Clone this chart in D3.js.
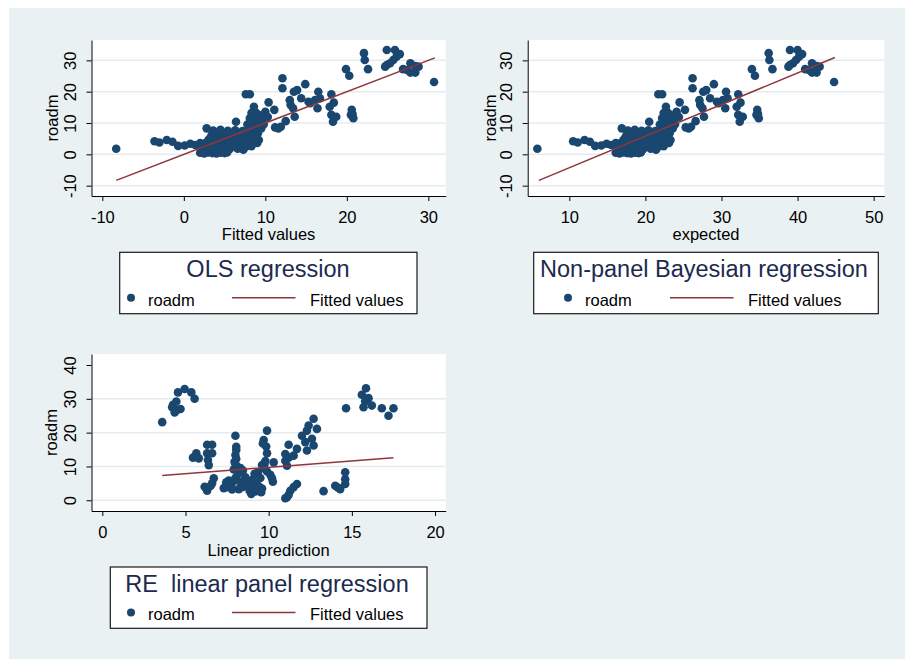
<!DOCTYPE html>
<html>
<head>
<meta charset="utf-8">
<script src="https://cdnjs.cloudflare.com/ajax/libs/d3/7.8.5/d3.min.js"></script>
<style>
body { margin: 0; background: #fff; }
text { font-family: "Liberation Sans", Arial, sans-serif; }
</style>
</head>
<body>
<div id="chart"></div>
<script>
// OLS: fitted values vs roadm (same observations used in the Bayesian panel)
var olsFitted = [-8.3, -3.6, -3.0, -2.1, -1.4, -0.7, 0.1, 0.8, 1.4, 2.0,
    2.0, 2.5, 3.0, 3.5, 4.0, 4.5, 5.0, 5.3,
    2.3, 3.1, 3.9, 4.7, 5.6, 6.6, 7.3,
    2.1, 2.8, 3.6, 4.4, 5.2, 6.0, 6.8, 7.6, 8.3,
    2.6, 3.4, 4.2, 5.0, 5.8, 6.6, 7.4, 8.2, 9.0,
    3.0, 3.8, 4.6, 5.4, 6.2, 7.0, 7.8, 8.6, 9.2,
    3.3, 4.1, 4.9, 5.7, 6.5, 7.3, 8.1, 8.9,
    3.5, 4.3, 5.1, 5.9, 6.7, 7.5, 8.3, 9.1,
    3.6, 4.5, 5.4, 6.3, 7.2, 8.0, 8.8,
    2.8, 9.5, 7.8, 8.6, 9.4, 6.4, 8.2, 9.1, 8.1, 8.8, 9.6, 8.4, 9.3, 8.3, 8.9,
    10.0, 8.6, 7.6, 8.1, 9.8, 10.3,
    10.4, 11.1, 11.2, 11.6, 11.9, 12.5, 12.1, 12.1, 13.0, 13.1, 13.5, 13.9, 13.6, 13.4,
    14.4, 14.9, 15.3, 15.5, 16.1, 16.5, 16.4, 16.7, 18.1, 18.4, 17.9, 18.1, 18.7, 18.3,
    20.6, 20.5, 20.8, 20.7, 19.9, 20.3, 22.1, 22.2, 22.6, 24.9, 25.9, 26.5, 26.1, 25.7,
    25.3, 24.9, 24.7, 26.9, 27.8, 28.4, 27.8, 28.4, 28.8, 27.4, 30.7];

var roadm = [1.8, 4.2, 3.8, 4.6, 4.0, 2.7, 2.8, 3.4, 3.0, 3.6,
    0.5, 0.3, 0.6, 0.4, 0.3, 0.5, 0.4, 0.6,
    1.5, 1.3, 1.7, 1.4, 1.6, 1.8, 1.5,
    2.5, 2.3, 2.7, 2.4, 2.6, 2.5, 2.8, 2.4, 2.6,
    3.5, 3.7, 3.4, 3.6, 3.3, 3.5, 3.8, 3.4, 3.6,
    4.6, 4.4, 4.8, 4.5, 4.7, 4.6, 4.4, 4.8, 4.6,
    5.6, 5.8, 5.5, 5.7, 5.4, 5.6, 5.9, 5.5,
    6.6, 6.4, 6.8, 6.5, 6.7, 6.6, 6.4, 6.8,
    7.6, 7.8, 7.5, 7.7, 7.4, 7.6, 7.8,
    8.3, 8.3, 9.5, 9.5, 9.5, 10.4, 10.4, 10.4, 11.5, 11.5, 11.5, 12.5, 12.5, 13.2, 13.2,
    13.6, 15.2, 19.2, 19.2, 9.6, 11.9,
    16.6, 14.2, 8.6, 8.3, 8.8, 10.6, 24.3, 21.1, 17.3, 15.8, 20.0, 20.5, 12.0, 14.7,
    17.9, 22.4, 16.8, 16.3, 17.3, 20.0, 14.7, 17.9, 19.2, 16.5, 15.2, 12.6, 12.0, 10.4,
    14.2, 12.6, 11.5, 12.9, 27.2, 25.1, 32.3, 30.1, 27.2, 33.3, 33.3, 32.0, 31.2, 30.1,
    29.1, 28.5, 28.0, 27.2, 29.1, 28.2, 26.1, 26.1, 28.0, 26.9, 23.1];

// Non-panel Bayesian: expected vs roadm
var bayesExpected = [5.8, 10.5, 11.1, 12.0, 12.7, 13.4, 14.2, 14.9, 15.5, 16.1,
    16.1, 16.6, 17.1, 17.6, 18.1, 18.6, 19.1, 19.4,
    16.4, 17.2, 18.0, 18.8, 19.7, 20.7, 21.4,
    16.2, 16.9, 17.7, 18.5, 19.3, 20.1, 20.9, 21.7, 22.4,
    16.7, 17.5, 18.3, 19.1, 19.9, 20.7, 21.5, 22.3, 23.1,
    17.1, 17.9, 18.7, 19.5, 20.3, 21.1, 21.9, 22.7, 23.3,
    17.4, 18.2, 19.0, 19.8, 20.6, 21.4, 22.2, 23.0,
    17.6, 18.4, 19.2, 20.0, 20.8, 21.6, 22.4, 23.2,
    17.7, 18.6, 19.5, 20.4, 21.3, 22.1, 22.9,
    16.9, 23.6, 21.9, 22.7, 23.5, 20.5, 22.3, 23.2, 22.2, 22.9, 23.7, 22.5, 23.4, 22.4, 23.0,
    24.1, 22.7, 21.7, 22.2, 23.9, 24.4,
    24.5, 25.2, 25.3, 25.7, 26.0, 26.6, 26.2, 26.2, 27.1, 27.2, 27.6, 28.0, 27.7, 27.5,
    28.5, 29.0, 29.4, 29.6, 30.2, 30.6, 30.5, 30.8, 32.2, 32.5, 32.0, 32.2, 32.8, 32.4,
    34.7, 34.6, 34.9, 34.8, 34.0, 34.4, 36.2, 36.3, 36.7, 39.0, 40.0, 40.6, 40.2, 39.8,
    39.4, 39.0, 38.8, 41.0, 41.9, 42.5, 41.9, 42.5, 42.9, 41.5, 44.8];

// RE linear panel: linear prediction vs roadm
var reLinPred = [3.6, 4.25, 4.45, 4.35, 4.5, 4.7, 4.2, 4.55, 4.95, 5.35, 5.55,
    5.45, 5.65, 5.8, 6.3, 6.6, 6.3, 6.6, 6.35, 6.4,
    6.15, 6.3, 6.25, 6.7, 6.6, 6.5,
    8.0, 8.05, 8.0, 7.95, 8.05,
    7.45, 7.75, 7.95, 8.15, 8.45, 8.5, 8.2, 8.85, 9.15, 8.95, 9.45, 9.55, 9.35, 9.75,
    9.15, 8.6, 7.9, 8.1, 7.6, 7.45, 7.3, 8.4, 9.0, 9.6, 8.7, 9.7,
    7.6, 7.8, 8.3, 8.7, 9.2, 8.0, 8.3, 9.5, 9.3, 8.05, 8.0, 9.8, 7.5, 9.0,
    9.9, 9.7, 9.85, 9.9, 9.65, 10.3, 9.6, 9.9, 10.1, 10.2, 10.25,
    11.0, 11.2, 11.0, 11.1, 11.7, 11.5, 11.2,
    11.1, 11.3, 11.5, 11.7, 11.2, 11.0,
    12.0, 12.3, 12.4, 12.7, 12.9, 12.2, 12.7, 12.3, 12.6,
    13.3, 14.0, 14.3, 14.6, 14.6, 14.6, 14.15,
    14.65, 15.85, 15.6, 16.0, 15.7, 16.2, 16.8, 17.2, 17.5, 15.8];

var reRoadm = [23.1, 28.2, 29.2, 26.0, 26.7, 27.0, 27.5, 31.9, 32.9, 31.9, 30.0,
    12.6, 13.9, 12.4, 16.4, 16.4, 13.9, 13.9, 11.9, 10.4,
    4.0, 2.8, 3.5, 6.5, 5.0, 4.2,
    19.1, 14.9, 13.4, 11.4, 12.3,
    3.9, 4.3, 5.8, 7.8, 8.8, 4.8, 3.3, 2.8, 5.3, 1.9, 3.9, 2.4, 8.3, 10.7,
    7.8, 6.8, 9.1, 10.0, 5.8, 5.3, 3.6, 3.9, 3.6, 3.5, 5.6, 9.5,
    4.8, 3.2, 5.5, 4.2, 2.6, 6.6, 9.5, 6.6, 4.7, 15.8, 10.8, 11.6, 4.5, 6.0,
    20.6, 17.8, 15.9, 13.9, 16.8, 11.2, 10.4, 8.5, 7.5, 6.5, 5.5,
    13.7, 16.4, 11.7, 10.2, 15.2, 13.2, 12.6,
    0.9, 2.8, 3.9, 4.8, 1.6, 0.6,
    19.1, 20.6, 22.1, 24.1, 21.1, 17.2, 16.2, 14.7, 18.2,
    2.7, 4.3, 3.3, 4.8, 8.3, 6.2, 3.8,
    27.2, 33.1, 31.2, 30.2, 27.5, 28.0, 27.2, 25.0, 27.2, 29.3];

// fitted lines (end points)
var olsLineX = [-8.3, 30.8], olsLineY = [-8.3, 30.8];
var bayesLineX = [6.0, 44.9], bayesLineY = [-8.3, 30.9];
var reLineX = [3.6, 17.5], reLineY = [7.3, 12.6];

var topYTicks = [-10, 0, 10, 20, 30];
var olsXTicks = [-10, 0, 10, 20, 30];
var bayesXTicks = [10, 20, 30, 40, 50];
var reXTicks = [0, 5, 10, 15, 20];
var reYTicks = [0, 10, 20, 30, 40];
var reGridTicks = [0, 10, 20, 30];

var panelTitles = ["OLS regression", "Non-panel Bayesian regression", "RE  linear panel regression"];
var xTitles = ["Fitted values", "expected", "Linear prediction"];
var yTitle = "roadm";
var legendLabels = ["roadm", "Fitted values"];

var navy = "#1a476f";
var maroon = "#90353b";

// plain hyphen for negatives, as in the original
function plain(d) { return String(d); }

function drawPanel(svg, p) {
    var x = d3.scaleLinear().domain(p.xDomain).range(p.xRange);
    var y = d3.scaleLinear().domain(p.yDomain).range(p.yRange);
    var g = svg.append("g");

    g.append("rect")
        .attr("x", p.xRange[0])
        .attr("y", p.yRange[1])
        .attr("width", p.xRange[1] - p.xRange[0])
        .attr("height", p.yRange[0] - p.yRange[1])
        .attr("fill", "#fff");

    g.selectAll("line.grid")
        .data(p.grid)
        .enter()
        .append("line")
        .attr("class", "grid")
        .attr("x1", p.xRange[0])
        .attr("x2", p.xRange[1])
        .attr("y1", function(d) { return y(d); })
        .attr("y2", function(d) { return y(d); })
        .attr("stroke", "#e4ecef")
        .attr("stroke-width", 1.5);

    // Y axis, labels turned vertical like Stata
    var ya = g.append("g")
        .attr("transform", "translate(" + p.xRange[0] + ",0)")
        .call(d3.axisLeft(y).tickValues(p.yTicks).tickFormat(plain).tickSize(5).tickSizeOuter(0));
    ya.attr("font-size", 16.5).attr("font-family", null).attr("color", "#000");
    ya.selectAll("text")
        .attr("x", 0)
        .attr("y", 0)
        .attr("dy", "0.35em")
        .attr("text-anchor", "middle")
        .attr("transform", "translate(" + (-p.yLabelOff) + ",0) rotate(-90)");

    // X axis
    var xa = g.append("g")
        .attr("transform", "translate(0," + p.yRange[0] + ")")
        .call(d3.axisBottom(x).tickValues(p.xTicks).tickFormat(plain).tickSize(5).tickSizeOuter(0));
    xa.attr("font-size", 16.5).attr("font-family", null).attr("color", "#000");
    xa.selectAll("text")
        .attr("y", p.xLabelOff)
        .attr("dy", 0);

    g.append("text")
        .attr("x", (p.xRange[0] + p.xRange[1]) / 2)
        .attr("y", p.xTitleY)
        .attr("text-anchor", "middle")
        .attr("font-size", 16.5)
        .text(p.xTitle);

    g.append("text")
        .attr("transform", "translate(" + p.yTitleX + "," + ((p.yRange[0] + p.yRange[1]) / 2) + ") rotate(-90)")
        .attr("dy", "0.35em")
        .attr("text-anchor", "middle")
        .attr("font-size", 16.5)
        .text(yTitle);

    g.selectAll("circle.pt")
        .data(d3.range(p.xs.length))
        .enter()
        .append("circle")
        .attr("class", "pt")
        .attr("cx", function(i) { return x(p.xs[i]); })
        .attr("cy", function(i) { return y(p.ys[i]); })
        .attr("r", 4.3)
        .attr("fill", navy);

    var line = d3.line()
        .x(function(i) { return x(p.lineX[i]); })
        .y(function(i) { return y(p.lineY[i]); });
    g.append("path")
        .attr("d", line(d3.range(p.lineX.length)))
        .attr("fill", "none")
        .attr("stroke", maroon)
        .attr("stroke-width", 1.5);

    // legend box
    var L = p.legend;
    var lg = svg.append("g");
    lg.append("rect")
        .attr("x", L.x).attr("y", L.y)
        .attr("width", L.w).attr("height", L.h)
        .attr("fill", "#fff")
        .attr("stroke", "#1a1a1a")
        .attr("stroke-width", 1.2);
    lg.append("text")
        .attr("x", L.titleX)
        .attr("y", L.y + 24.6)
        .attr("text-anchor", "middle")
        .attr("font-size", 23.5)
        .attr("fill", "#1c2a50")
        .style("white-space", "pre")
        .text(p.title);
    lg.append("circle")
        .attr("cx", L.dotX).attr("cy", L.y + 45.5)
        .attr("r", 4)
        .attr("fill", navy);
    lg.append("text")
        .attr("x", L.dotX + 17)
        .attr("y", L.y + 53.4)
        .attr("font-size", 16.5)
        .text(legendLabels[0]);
    lg.append("line")
        .attr("x1", L.lineX).attr("x2", L.lineX + 63.5)
        .attr("y1", L.y + 45.5).attr("y2", L.y + 45.5)
        .attr("stroke", maroon)
        .attr("stroke-width", 1.5);
    lg.append("text")
        .attr("x", L.lineX + 78)
        .attr("y", L.y + 53.4)
        .attr("font-size", 16.5)
        .text(legendLabels[1]);
}

function init() {
    var svg = d3.select("#chart")
        .append("svg")
        .attr("width", 905)
        .attr("height", 659)
        .style("display", "block");

    svg.append("rect")
        .attr("x", 9).attr("y", 8)
        .attr("width", 896).attr("height", 651)
        .attr("fill", "#eaf1f3");

    drawPanel(svg, {
        xs: olsFitted, ys: roadm, lineX: olsLineX, lineY: olsLineY,
        xDomain: [-11.33, 32.13], xRange: [91.5, 445.7],
        yDomain: [-13.3, 36.5], yRange: [196, 40],
        xTicks: olsXTicks, yTicks: topYTicks, grid: topYTicks,
        yLabelOff: 21.5, xLabelOff: 27, xTitleY: 240, yTitleX: 52,
        xTitle: xTitles[0], title: panelTitles[0],
        legend: { x: 119.7, y: 252.3, w: 297.3, h: 61.4, titleX: 268, dotX: 131, lineX: 232 }
    });

    drawPanel(svg, {
        xs: bayesExpected, ys: roadm, lineX: bayesLineX, lineY: bayesLineY,
        xDomain: [4.53, 51.4], xRange: [527.7, 884.3],
        yDomain: [-13.3, 36.5], yRange: [196, 40],
        xTicks: bayesXTicks, yTicks: topYTicks, grid: topYTicks,
        yLabelOff: 21.9, xLabelOff: 27, xTitleY: 240, yTitleX: 490.3,
        xTitle: xTitles[1], title: panelTitles[1],
        legend: { x: 533.7, y: 252.3, w: 344.6, h: 61.4, titleX: 704, dotX: 568, lineX: 670 }
    });

    drawPanel(svg, {
        xs: reLinPred, ys: reRoadm, lineX: reLineX, lineY: reLineY,
        xDomain: [-0.65, 20.64], xRange: [91.5, 445.7],
        yDomain: [-3.17, 43.25], yRange: [511, 354],
        xTicks: reXTicks, yTicks: reYTicks, grid: reGridTicks,
        yLabelOff: 21.5, xLabelOff: 27, xTitleY: 556, yTitleX: 51.7,
        xTitle: xTitles[2], title: panelTitles[2],
        legend: { x: 110.3, y: 567, w: 316.7, h: 61.3, titleX: 267, dotX: 131, lineX: 232 }
    });
}

window.onload = init;
</script>
</body>
</html>
